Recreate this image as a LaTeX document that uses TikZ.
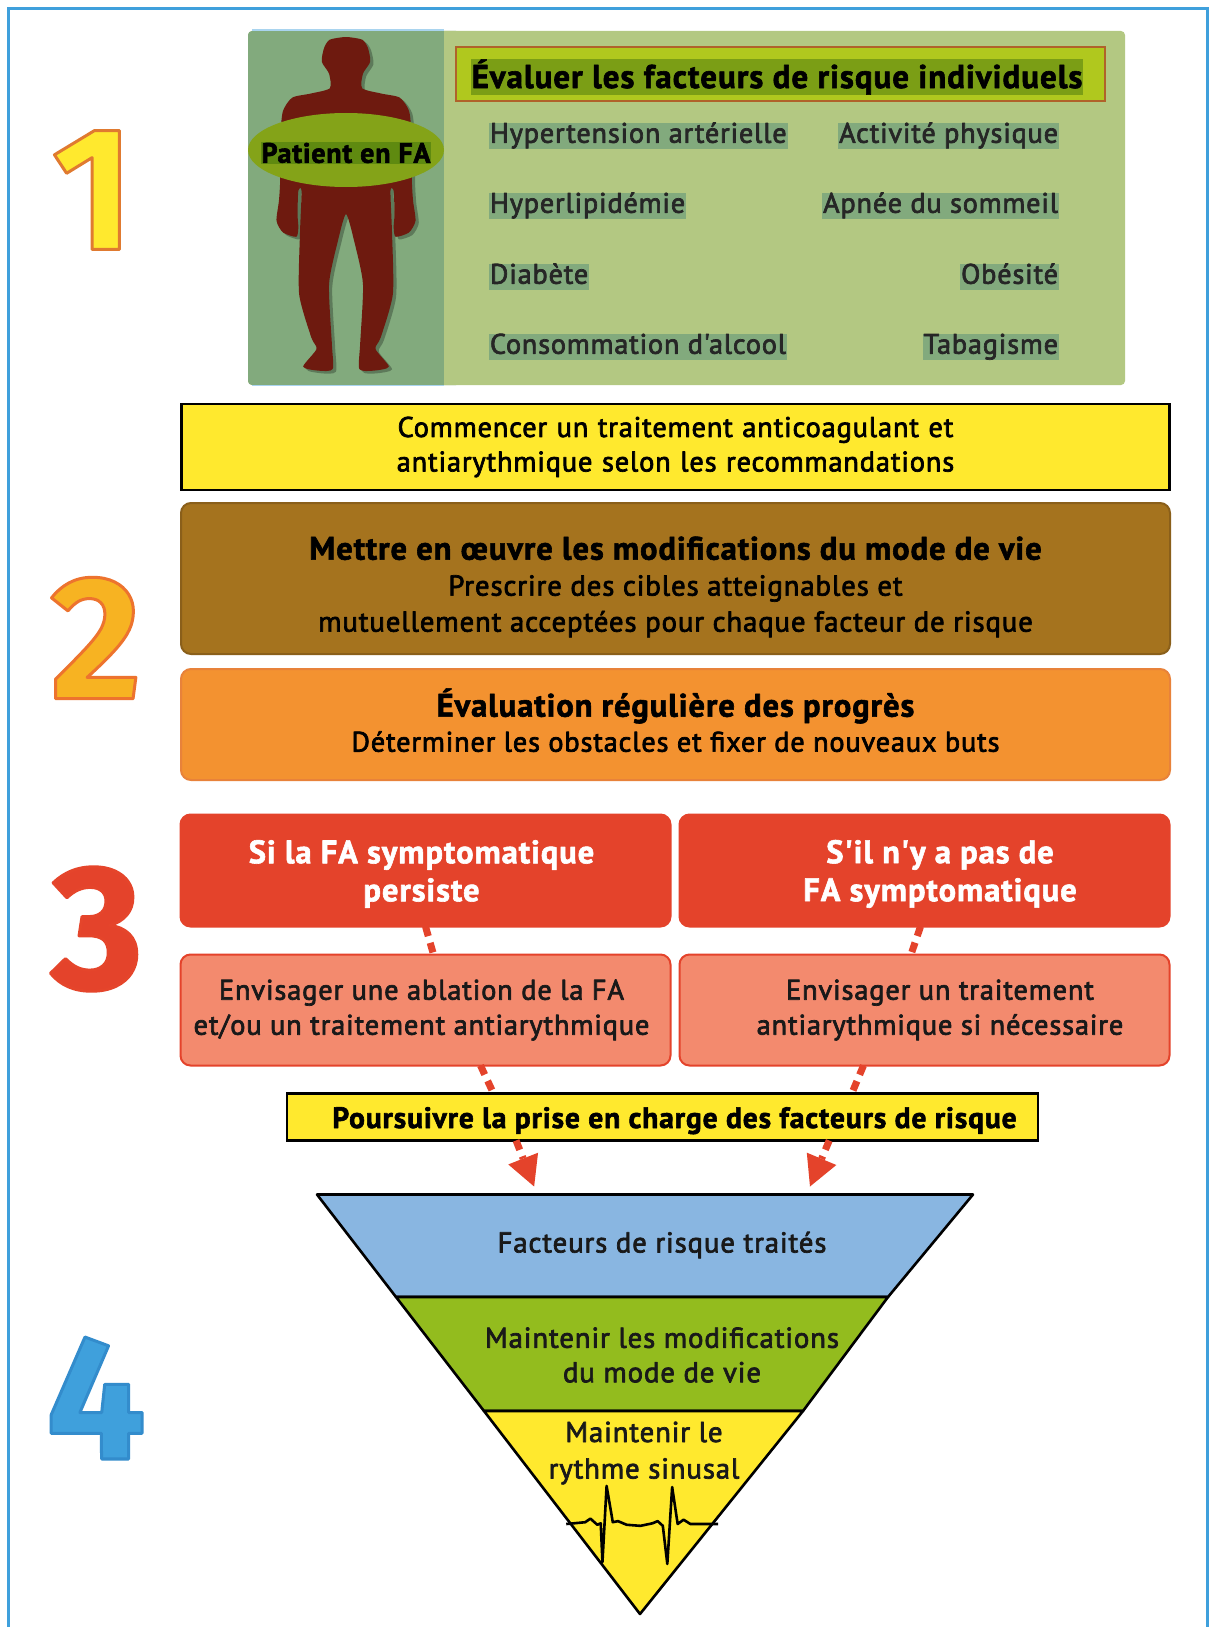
\documentclass[tikz,border=0pt]{standalone}
\usepackage{fontspec}
\usetikzlibrary{arrows.meta,calc,shapes.geometric}
\setmainfont{PT Sans}
\newfontfamily\medf[LetterSpace=3]{PT Sans}
\newfontfamily\boldf[LetterSpace=3]{PT Sans}
\newfontfamily\digf{Fira Sans}
\definecolor{frameblue}{HTML}{3FA0DC}
\definecolor{panellight}{HTML}{B3C882}
\definecolor{paneldark}{HTML}{82AA7D}
\definecolor{titlefill}{HTML}{B0C81E}
\definecolor{titlehl}{HTML}{7B9E15}
\definecolor{titleedge}{HTML}{B0622A}
\definecolor{ellfill}{HTML}{84A318}
\definecolor{ellhl}{HTML}{5F8A10}
\definecolor{bodyred}{HTML}{6E1A0F}
\definecolor{yel}{HTML}{FFE92E}
\definecolor{brown}{HTML}{A5731E}
\definecolor{brownedge}{HTML}{8A5F1A}
\definecolor{orangebox}{HTML}{F39230}
\definecolor{orangeedge}{HTML}{E8823A}
\definecolor{redbox}{HTML}{E4432B}
\definecolor{pinkbox}{HTML}{F38A6E}
\definecolor{triblue}{HTML}{89B6E1}
\definecolor{trigreen}{HTML}{93BC1E}
\newcommand{\outl}[3]{\special{pdf:code 1 j 2 Tr #1 w #2 RG}#3\special{pdf:code 0 Tr}}
\newcommand{\wt}[1]{\special{pdf:code 1 j 2 Tr 0.7 w}#1\special{pdf:code 0 Tr}}
\newcommand{\wb}[1]{\special{pdf:code 1 j 2 Tr 0.6 w}#1\special{pdf:code 0 Tr}}
\newcommand{\fsz}[2]{\fontsize{#1}{#2}\selectfont}
\tikzset{
  x=1pt,y=-1pt,
  every node/.style={inner sep=0pt,outer sep=0pt},
  digit/.style={font=\digf\bfseries\fontsize{176}{176}\selectfont},
  riskitem/.style={fill=paneldark,inner xsep=1pt,inner ysep=0.5pt,text=black!85,text height=19.5pt,text depth=6pt,font=\medf\fsz{28.2}{30}},
  yellowbox/.style={draw=black,line width=2.6pt,fill=yel,align=center,text width=900pt},
  lifebox/.style={rounded corners=10pt,line width=2pt,align=center},
  redhead/.style={lifebox,draw=redbox,fill=redbox,text=white,minimum width=490pt,minimum height=112pt,font=\boldf\bfseries\fsz{32.5}{38}},
  pinkitem/.style={lifebox,draw=redbox,fill=pinkbox,text=black!90,minimum width=490pt,minimum height=111pt,font=\medf\fsz{28.4}{35}},
  dashconn/.style={draw=redbox,line width=7pt,dash pattern=on 10pt off 7pt},
  dasharrow/.style={dashconn,-{Triangle[length=30pt,width=32pt,line width=0pt]}},
  tripart/.style={draw=black,line width=2.6pt,line join=round},
  tritext/.style={align=center,text=black!90,font=\medf\fsz{28.8}{34.5}}
}
\begin{document}
\begin{tikzpicture}
\useasboundingbox (0,0) rectangle (1209,1627);
\fill[white] (0,0) rectangle (1209,1627);
% outer frame
\draw[frameblue,line width=3pt] (8,1640) -- (8,9) -- (1207,9) -- (1207,1640);
% numbers
\node[digit,text=yel] (n1) at (93,190) {\outl{3}{0.88 0.48 0.19}{1}};
\node[digit,text=orangebox!70!yellow] (n2) at (96,638) {\outl{3}{0.93 0.45 0.18}{2}};
\node[digit,text=redbox] (n3) at (97,929) {\outl{3}{0.9 0.27 0.17}{3}};
\node[digit,text=frameblue] (n4) at (96,1398) {\outl{3}{0.2 0.55 0.8}{4}};
% panel 1
\fill[panellight,rounded corners=4pt] (248,31) rectangle (1125,385);
\fill[paneldark,rounded corners=4pt] (248,31) rectangle (460,385);
\fill[panellight] (444,31) rectangle (470,385);
\draw[frameblue!45,line width=1.5pt] (252,30) -- (444,30);
\draw[frameblue!45,line width=1.5pt] (252,385.5) -- (444,385.5);
\begin{scope}[shift={(-6.29,1.04)},xscale=.404,yscale=.333]
 \def\bodyoutline{plot[smooth cycle,tension=.4] coordinates {
 (872,108)(912,116)(926,140)(932,182)(914,218)(912,262)(960,278)(1005,290)(1028,330)(1034,400)(1035,540)(1038,600)(1044,660)(1028,695)(995,708)(990,680)(992,640)(990,570)(982,570)(986,700)(988,880)(958,1010)(945,1045)(978,1098)(940,1110)(905,1105)(907,1030)(914,850)(892,720)(872,640)
 (852,720)(830,850)(837,1030)(839,1105)(804,1110)(766,1098)(799,1045)(786,1010)(756,880)(758,700)(762,570)(754,570)(752,640)(754,680)(749,708)(716,695)(700,660)(706,600)(709,540)(710,400)(716,330)(739,290)(784,278)(832,262)(830,218)(812,182)(818,140)(832,116)}}
 \fill[black,opacity=.28,shift={(8,8)}] \bodyoutline;
 \fill[bodyred] \bodyoutline;
\end{scope}
\node[ellipse,fill=ellfill,minimum width=196pt,minimum height=74pt] (ell) at (346,150) {};
\node[fill=ellhl,inner xsep=1pt,inner ysep=1pt,font=\boldf\bfseries\fsz{28}{30}] (pat) at (346,153) {\wb{Patient en FA}};
\node[draw=titleedge,line width=2.5pt,fill=titlefill,minimum width=649pt,minimum height=54pt] (titlebox) at (780.5,74) {};
\node[fill=titlehl,inner xsep=1pt,inner ysep=0pt,font=\boldf\bfseries\fsz{33}{34}] (title) at (777,77) {\wb{Évaluer les facteurs de risque individuels}};
\node[riskitem,anchor=west] (a1) at (489,136) {\wt{Hypertension artérielle}};
\node[riskitem,anchor=west] (a2) at (489,206) {\wt{Hyperlipidémie}};
\node[riskitem,anchor=west] (a3) at (489,277) {\wt{Diabète}};
\node[riskitem,anchor=west] (a4) at (489,347) {\wt{Consommation d'alcool}};
\node[riskitem,anchor=east] (b1) at (1059,136) {\wt{Activité physique}};
\node[riskitem,anchor=east] (b2) at (1059,206) {\wt{Apnée du sommeil}};
\node[riskitem,anchor=east] (b3) at (1059,277) {\wt{Obésité}};
\node[riskitem,anchor=east] (b4) at (1059,347) {\wt{Tabagisme}};
% boxes
\node[yellowbox,minimum width=988pt,minimum height=86pt,font=\medf\fsz{28.4}{34.5}] (start) at (675.5,447) {\wt{Commencer un traitement anticoagulant et}\\\wt{antiarythmique selon les recommandations}};
\node[lifebox,draw=brownedge,fill=brown,minimum width=989pt,minimum height=151pt,font=\medf\fsz{28.8}{36}] (life) at (675.5,578.5) {\rule{0pt}{40pt}{\boldf\bfseries\fsz{32.5}{36}\wb{Mettre en œuvre les modifications du mode de vie}}\\\wt{Prescrire des cibles atteignables et}\\\wt{mutuellement acceptées pour chaque facteur de risque}};
\node[lifebox,draw=orangeedge,fill=orangebox,minimum width=989pt,minimum height=111pt,font=\medf\fsz{28.3}{35}] (eval) at (675.5,724.5) {\rule{0pt}{28pt}{\boldf\bfseries\fsz{32.5}{35}\wb{Évaluation régulière des progrès}}\\\rule[-9pt]{0pt}{9pt}\wt{Déterminer les obstacles et fixer de nouveaux buts}};
\node[redhead] (r1) at (425.5,870.5) {\rule{0pt}{30pt}\wb{Si la FA symptomatique}\hspace*{8pt}\\\wb{persiste}\hspace*{8pt}};
\node[redhead] (r2) at (924.5,870.5) {\rule{0pt}{30pt}\hspace*{31pt}\wb{S'il n'y a pas de}\\\hspace*{31pt}\wb{FA symptomatique}};
\node[pinkitem] (p1) at (425.5,1010) {\wt{Envisager une ablation de la FA}\hspace*{8pt}\\\wt{et/ou un traitement antiarythmique}\hspace*{8pt}};
\node[pinkitem] (p2) at (924.5,1010) {\hspace*{31pt}\wt{Envisager un traitement}\\\hspace*{31pt}\wt{antiarythmique si nécessaire}};
\node[draw=black,line width=2.6pt,fill=yel,minimum width=751pt,minimum height=47pt,text height=22pt,text depth=0pt,font=\boldf\bfseries\fsz{29.5}{32}] (cont) at (662.5,1117) {\hspace*{24pt}\wb{Poursuivre la prise en charge des facteurs de risque}};
% connectors
\draw[dashconn] (r1.south) -- ($(p1.north)+(8,0)$);
\draw[dashconn] ($(r2.south)+(-4,0)$) -- ($(p2.north)+(-13.5,0)$);
\draw[dashconn] ($(p1.south)+(55,0)$) -- ($(cont.north west)!.275!(cont.north east)$);
\draw[dashconn] ($(p2.south)+(-61,0)$) -- ($(cont.north west)!.752!(cont.north east)$);
% pyramid
\coordinate (la) at (317,1194.5);\coordinate (ra) at (973,1194.5);\coordinate (ap) at (640,1614);
\coordinate (l1) at (396,1297);\coordinate (r1c) at (888,1297);
\coordinate (l2) at (484,1411);\coordinate (r2c) at (803,1411);
\draw[tripart,fill=triblue] (la) -- (ra) -- (r1c) -- (l1) -- cycle;
\draw[tripart,fill=trigreen] (l1) -- (r1c) -- (r2c) -- (l2) -- cycle;
\draw[tripart,fill=yel] (l2) -- (r2c) -- (ap) -- cycle;
\draw[dasharrow] ($(cont.south west)!.305!(cont.south east)$) -- ($(la)!.331!(ra)+(0,-8)$);
\draw[dasharrow] ($(cont.south west)!.722!(cont.south east)$) -- ($(la)!.7515!(ra)+(0,-8)$);
\node[tritext] (t1) at (662,1245) {\wt{Facteurs de risque traités}};
\node[tritext] (t2) at (662,1355) {\wt{Maintenir les modifications}\\\wt{du mode de vie}};
\node[tritext] (t3) at (644,1453) {\wt{Maintenir le}\\[2pt]\wt{rythme sinusal}};
\begin{scope}[shift={(392,1063)},xscale=.345,yscale=.363]
\draw[black,line width=2.6pt,line join=round] (505,1270) -- (560,1265) -- (575,1255) -- (595,1272) -- (605,1268) -- (610,1375) -- (622,1165) -- (640,1265) -- (655,1262) -- (680,1272) -- (720,1275) -- (755,1268) -- (770,1262) -- (785,1275) -- (798,1380) -- (812,1168) -- (828,1270) -- (845,1258) -- (865,1270) -- (945,1270);
\end{scope}
\end{tikzpicture}
\end{document}
